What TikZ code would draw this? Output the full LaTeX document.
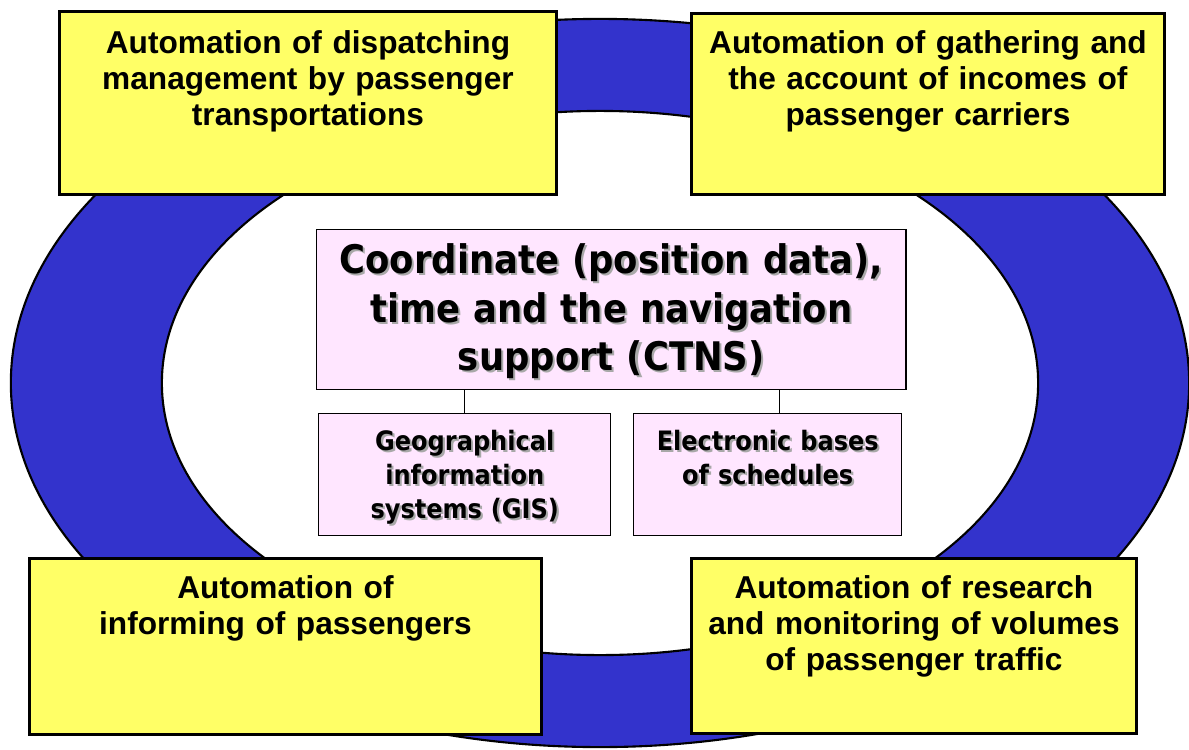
\documentclass[tikz,border=0pt]{standalone}
\usepackage{fontspec}
\setmainfont{Liberation Sans}
\newfontfamily\ctnsfont{DejaVu Sans Condensed}
\usepackage{xcolor}
\definecolor{ringblue}{HTML}{3333CC}
\definecolor{boxyellow}{HTML}{FFFF66}
\definecolor{boxpink}{HTML}{FFE6FF}
\definecolor{shadowgray}{HTML}{A8A8A8}
\newcommand{\shd}[1]{\leavevmode\rlap{\kern1.5pt\raisebox{-1.5pt}{\textcolor{shadowgray}{#1}}}#1}

\begin{document}
\begin{tikzpicture}[x=0.025cm, y=-0.025cm,
    autobox/.style={draw, line width=2pt, fill=boxyellow, anchor=north west, inner sep=0pt,
      align=center, text height=1cm, font=\fontsize{22.5}{25.5}\selectfont\bfseries},
    ctnsbox/.style={draw, line width=1pt, fill=boxpink, anchor=north west, inner sep=0pt,
      align=center, font=\ctnsfont\bfseries}]
    \useasboundingbox (0,0) rectangle (1189,749);
    % ring
    \draw [line width=1.5pt, fill=ringblue, even odd rule]
      (600,383) ellipse [x radius=14.725cm, y radius=9.1cm]
      (600,383) ellipse [x radius=10.95cm, y radius=6.8cm];
    % corner boxes
    \node [autobox, text width=12.425cm, text height=1.05cm, text depth=3.525cm] (disp) at (58,10)
      {Automation of dispatching\\ management by passenger\\ transportations};
    \node [autobox, text width=11.825cm, text depth=3.525cm] (income) at (690,12)
      {Automation of gathering and\\ the account of incomes of\\ passenger carriers};
    \node [autobox, text width=12.8cm, text depth=3.4cm] (inform) at (28,557)
      {Automation of\\ informing of passengers};
    \node [autobox, text width=11.125cm, text depth=3.375cm] (traffic) at (690,557)
      {Automation of research\\ and monitoring of volumes\\ of passenger traffic};
    % centre
    \node [ctnsbox, text width=14.725cm, text height=1.1cm, text depth=2.9cm,
      font=\ctnsfont\bfseries\fontsize{28}{34.5}\selectfont] (ctns) at (316,229)
      {\shd{Coordinate (position data),}\\ \shd{time and the navigation}\\ \shd{support (CTNS)}};
    \node [ctnsbox, text width=7.3cm, text height=0.925cm, text depth=2.125cm,
      font=\ctnsfont\bfseries\fontsize{19}{24}\selectfont] (gis) at (318,413)
      {\shd{Geographical}\\ \shd{information}\\ \shd{systems (GIS)}};
    \node [ctnsbox, text width=6.7cm, text height=0.925cm, text depth=2.125cm,
      font=\ctnsfont\bfseries\fontsize{19}{24}\selectfont] (sched) at (633,413)
      {\shd{Electronic bases}\\ \shd{of schedules}};
    \draw [line width=0.8pt] (gis.north) -- (gis.north |- ctns.south);
    \draw [line width=0.8pt] ([xshift=0.3cm]sched.north) -- ([xshift=0.3cm]sched.north |- ctns.south);
\end{tikzpicture}
\end{document}
